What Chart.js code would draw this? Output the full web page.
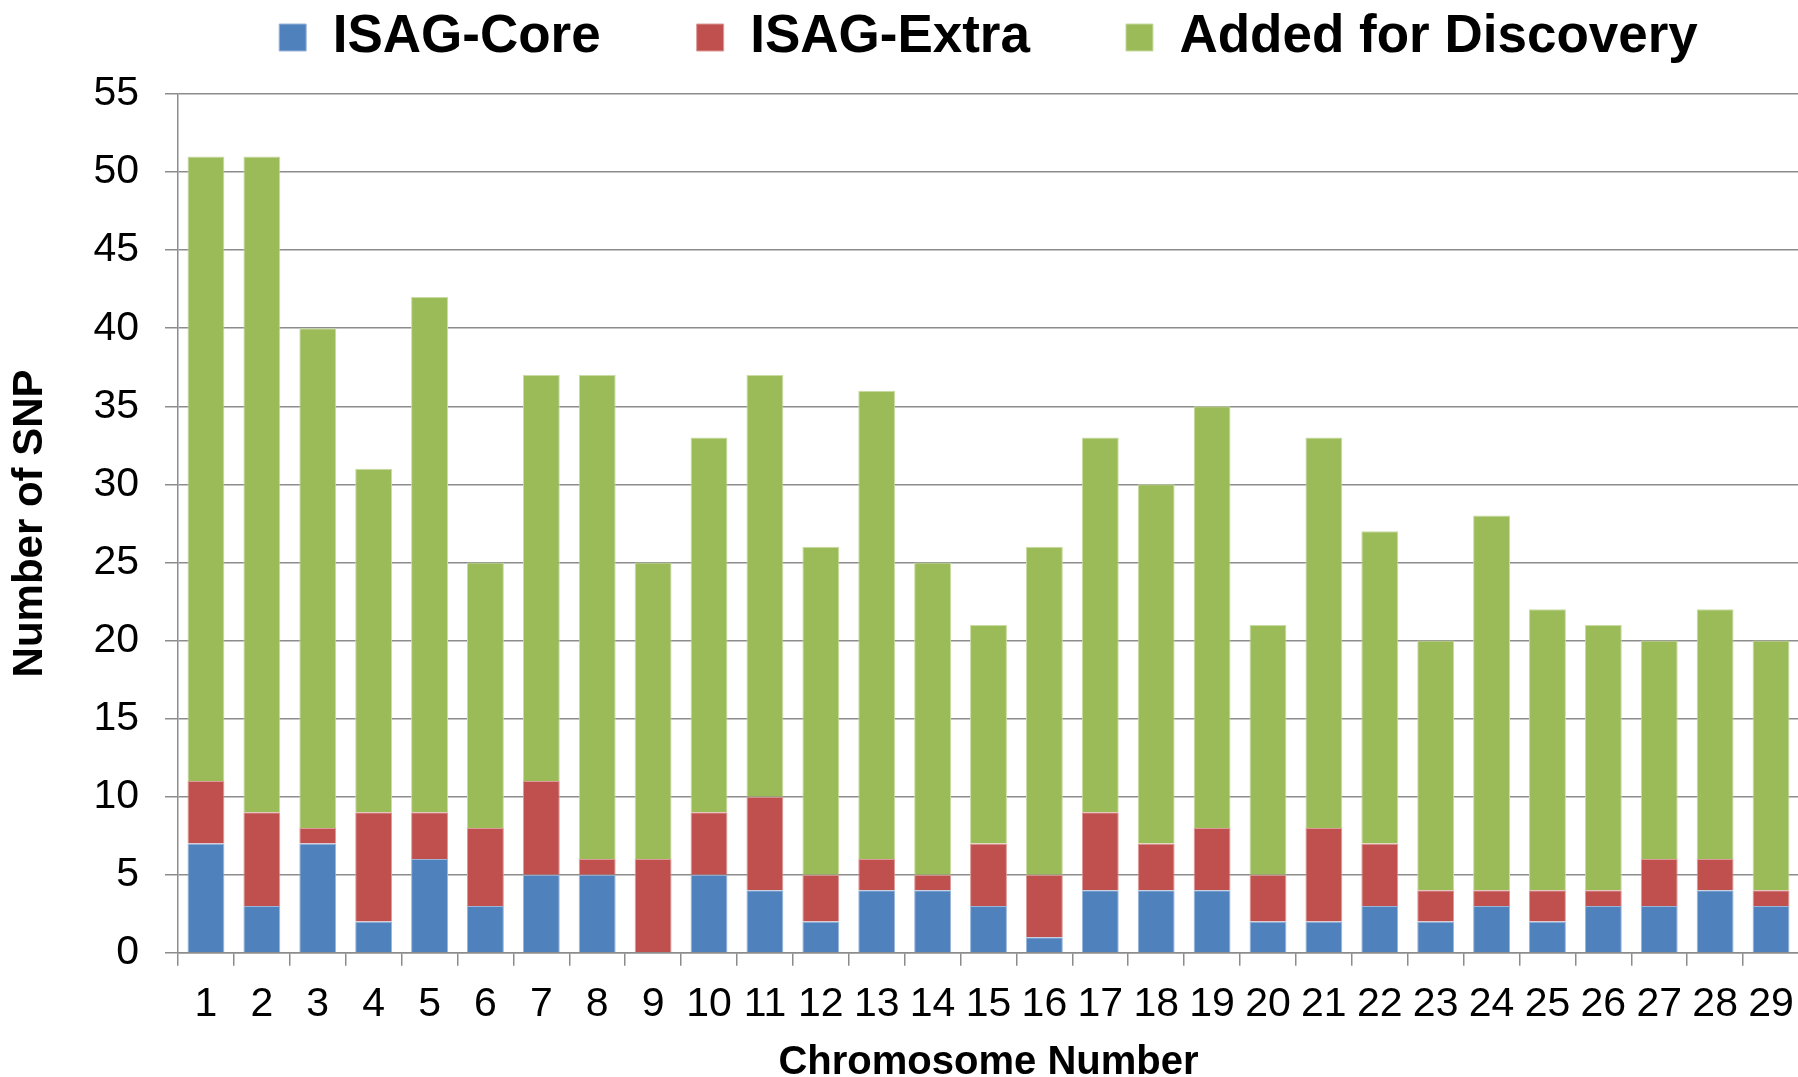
<!DOCTYPE html>
<html>
<head>
<meta charset="utf-8">
<script src="https://cdn.jsdelivr.net/npm/chart.js@4/dist/chart.umd.min.js"></script>
<style>
  html, body { margin: 0; padding: 0; background: #fff; overflow: hidden; }
  /* a bit wider than the window: the plot runs off the right edge in the original */
  #wrap { width: 1808px; height: 1077px; }
</style>
</head>
<body>
<div id="wrap"><canvas id="chart"></canvas></div>
<script>
const chromosomes = ['1','2','3','4','5','6','7','8','9','10','11','12','13','14','15',
  '16','17','18','19','20','21','22','23','24','25','26','27','28','29'];
const isagCore  = [7,3,7,2,6,3,5,5,0,5,4,2,4,4,3,1,4,4,4,2,2,3,2,3,2,3,3,4,3];
const isagExtra = [4,6,1,7,3,5,6,1,6,4,6,3,2,1,4,4,5,3,4,3,6,4,2,1,2,1,3,2,1];
const discovery = [40,42,32,22,33,17,26,31,19,24,27,21,30,20,14,21,24,23,27,16,25,20,16,24,18,17,14,16,16];
const yMax = 55;
const yStep = 5;

const ctx = document.getElementById('chart');
const gridColor = '#8c8c8c';
const fontFamily = 'Liberation Sans, Arial, sans-serif';

new Chart(ctx, {
  type: 'bar',
  data: {
    labels: chromosomes,
    datasets: [
      { label: 'ISAG-Core', data: isagCore, backgroundColor: '#4f81bd', borderColor: '#9ab5da', borderWidth: 1 },
      { label: 'ISAG-Extra', data: isagExtra, backgroundColor: '#c0504d', borderColor: '#dc9a98', borderWidth: 1 },
      { label: 'Added for Discovery', data: discovery, backgroundColor: '#9bbb59', borderColor: '#c9dca2', borderWidth: 1 }
    ]
  },
  options: {
    responsive: true,
    maintainAspectRatio: false,
    animation: false,
    // negative top so the wide legend padding doesn't push the plot down
    layout: { padding: { top: -85, left: 0, right: 0, bottom: -6 } },
    datasets: { bar: { barPercentage: 0.66, categoryPercentage: 1 } },
    plugins: {
      tooltip: { enabled: false },
      legend: {
        position: 'top',
        fullSize: false,
        labels: {
          boxWidth: 27,
          boxHeight: 27,
          padding: 96,
          color: '#000',
          font: { family: fontFamily, size: 53, weight: 'bold' }
        }
      },
      // empty subtitle used only as a gap between legend and plot
      subtitle: {
        display: true,
        text: '',
        weight: 500,
        padding: 0,
        font: { size: 20, lineHeight: 1 }
      }
    },
    scales: {
      x: {
        stacked: true,
        grid: { drawOnChartArea: false, color: gridColor, lineWidth: 1.5, tickLength: 13 },
        border: { color: gridColor, width: 1.5 },
        ticks: {
          color: '#000', padding: 14, maxRotation: 0, autoSkip: false,
          font: { family: fontFamily, size: 41 }
        },
        title: {
          display: true, text: 'Chromosome Number', color: '#000',
          padding: { top: 0, bottom: 0 },
          font: { family: fontFamily, size: 40, weight: 'bold', lineHeight: 1 }
        }
      },
      y: {
        stacked: true,
        min: 0,
        max: yMax,
        grid: { color: gridColor, lineWidth: 1.5, tickLength: 13 },
        border: { color: gridColor, width: 1.5 },
        ticks: {
          stepSize: yStep, color: '#000', padding: 26,
          font: { family: fontFamily, size: 41 }
        },
        title: {
          display: true, text: 'Number of SNP', color: '#000',
          padding: { top: 5, bottom: 12 },
          font: { family: fontFamily, size: 42, weight: 'bold' }
        }
      }
    }
  }
});
</script>
</body>
</html>
